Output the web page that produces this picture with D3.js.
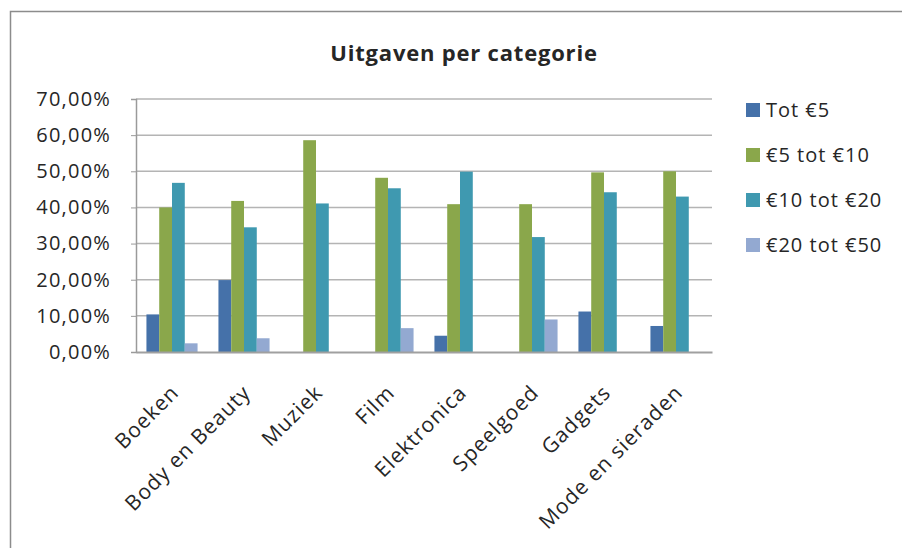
<!DOCTYPE html>
<html>
<head>
<meta charset="utf-8">
<script src="https://cdn.jsdelivr.net/npm/d3@7"></script>
<style>
  body { margin: 0; background: #fff; }
  text { font-family: "Open Sans", "DejaVu Sans", sans-serif; fill: #262626; }
</style>
</head>
<body>
<div id="chart"></div>
<script>
// data
var categories = ["Boeken", "Body en Beauty", "Muziek", "Film", "Elektronica", "Speelgoed", "Gadgets", "Mode en sieraden"];
var seriesNames = ["Tot €5", "€5 tot €10", "€10 tot €20", "€20 tot €50"];
var tot5 = [10.4, 19.9, 0, 0, 4.5, 0, 11.2, 7.2];
var tot10 = [40.0, 41.8, 58.6, 48.2, 40.9, 40.9, 49.7, 50.0];
var tot20 = [46.8, 34.5, 41.1, 45.3, 49.9, 31.8, 44.2, 43.0];
var tot50 = [2.4, 3.8, 0, 6.6, 0, 9.0, 0, 0];
var yTicks = [0, 10, 20, 30, 40, 50, 60, 70];
var colors = ["#4571a9", "#8aa74b", "#3f99b0", "#93a9d1"];

var seriesValues = [tot5, tot10, tot20, tot50];

var svgWidth = 902;
var svgHeight = 548;
var margin = {top: 99, right: 190, bottom: 196, left: 136};
var width = svgWidth - margin.left - margin.right;
var height = svgHeight - margin.top - margin.bottom;

var svg = d3.select("#chart")
  .append("svg")
  .attr("width", svgWidth)
  .attr("height", svgHeight);

// outer frame (only left and top visible in the picture)
svg.append("path")
  .attr("d", "M10.5," + svgHeight + "V11.5H" + svgWidth)
  .attr("fill", "none")
  .attr("stroke", "#8c8c8c")
  .attr("stroke-width", 1.5);

// title
svg.append("text")
  .attr("x", 464)
  .attr("y", 61)
  .attr("text-anchor", "middle")
  .style("font-size", "22px")
  .style("font-weight", "bold")
  .style("letter-spacing", "0.8px")
  .text("Uitgaven per categorie");

var chartGroup = svg.append("g")
  .attr("transform", `translate(${margin.left}, ${margin.top})`);

var x0 = d3.scaleBand()
  .domain(categories)
  .range([0, width])
  .paddingInner(0.29)
  .paddingOuter(0.145);

var x1 = d3.scaleBand()
  .domain(d3.range(seriesNames.length))
  .range([0, x0.bandwidth()]);

var y = d3.scaleLinear()
  .domain([0, 70])
  .range([height, 0]);

// gridlines
chartGroup.append("g")
  .selectAll("line")
  .data(yTicks.filter(d => d > 0))
  .enter()
  .append("line")
  .attr("x1", 0)
  .attr("x2", width)
  .attr("y1", d => y(d))
  .attr("y2", d => y(d))
  .attr("stroke", "#b4b4b4")
  .attr("stroke-width", 1.5);

// left axis
var leftAxis = d3.axisLeft(y)
  .tickValues(yTicks)
  .tickSize(5)
  .tickPadding(20)
  .tickFormat(d => d3.format(".2f")(d).replace(".", ",") + "%");

var yAxisG = chartGroup.append("g").call(leftAxis);
yAxisG.select(".domain").attr("stroke", "#9a9a9a").attr("stroke-width", 1.5);
yAxisG.selectAll(".tick line").attr("stroke", "#9a9a9a");
yAxisG.selectAll(".tick text")
  .style("font-size", "20px")
  .style("letter-spacing", "1.2px")
  .attr("fill", "#333");

// bars
var groups = chartGroup.selectAll("g.cat")
  .data(categories)
  .enter()
  .append("g")
  .attr("class", "cat")
  .attr("transform", d => `translate(${x0(d)}, 0)`);

groups.selectAll("rect")
  .data((d, i) => seriesValues.map((s, k) => ({k: k, v: s[i]})))
  .enter()
  .append("rect")
  .attr("x", d => x1(d.k))
  .attr("y", d => y(d.v))
  .attr("width", x1.bandwidth())
  .attr("height", d => height - y(d.v))
  .attr("fill", d => colors[d.k]);

// bottom axis
var bottomAxis = d3.axisBottom(x0).tickSize(0).tickPadding(0);
var xAxisG = chartGroup.append("g")
  .attr("transform", `translate(0, ${height})`)
  .call(bottomAxis);
xAxisG.select(".domain").attr("stroke", "#a0a0a0").attr("stroke-width", 2);
xAxisG.selectAll(".tick text")
  .attr("text-anchor", "end")
  .attr("x", 0)
  .attr("y", 0)
  .attr("dy", 0)
  .style("font-size", "21px")
  .style("letter-spacing", "1px")
  .attr("fill", "#262626")
  .attr("transform", "translate(8, 42) rotate(-45)");

// legend
var legend = svg.append("g")
  .attr("transform", "translate(746, 110)");

var legendItems = legend.selectAll("g")
  .data(seriesNames)
  .enter()
  .append("g")
  .attr("transform", (d, i) => `translate(0, ${i * 45})`);

legendItems.append("rect")
  .attr("x", 0)
  .attr("y", -7)
  .attr("width", 14)
  .attr("height", 14)
  .attr("fill", (d, i) => colors[i]);

legendItems.append("text")
  .attr("x", 20)
  .attr("y", 0)
  .attr("dy", "0.35em")
  .style("font-size", "20px")
  .style("letter-spacing", "1px")
  .text(d => d);
</script>
</body>
</html>
